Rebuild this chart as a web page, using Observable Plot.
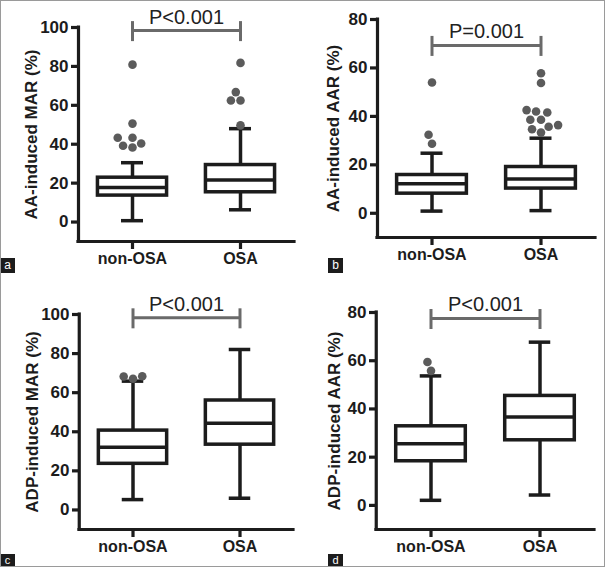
<!DOCTYPE html>
<html>
<head>
<meta charset="utf-8">
<script src="https://cdn.jsdelivr.net/npm/d3@7"></script>
<script src="https://cdn.jsdelivr.net/npm/@observablehq/plot@0.6"></script>
<style>
  html, body { margin: 0; padding: 0; background: #fff; }
  #fig { position: relative; width: 605px; height: 567px; overflow: hidden; background: #fff; }
  .panel { position: absolute; }
  .panel svg { display: block; }
  #border { position: absolute; left: 0; top: 0; width: 605px; height: 567px; box-sizing: border-box; border: 1px solid #9a9a9a; pointer-events: none; }
  .tag { position: absolute; width: 15px; height: 15px; background: #1c1c1c; color: #fff;
         font: 12px "Liberation Sans", Arial, sans-serif; line-height: 14px; text-align: center; }
</style>
</head>
<body>
<div id="fig">
  <div class="panel" id="pa" style="left:0;top:0"></div>
  <div class="panel" id="pb" style="left:302px;top:0"></div>
  <div class="panel" id="pc" style="left:0;top:283px"></div>
  <div class="panel" id="pd" style="left:302px;top:283px"></div>
  <div class="tag" style="left:0;top:258px">a</div>
  <div class="tag" style="left:328px;top:258px">b</div>
  <div class="tag" style="left:0;top:554px;height:12px;line-height:12px;font-size:11px">c</div>
  <div class="tag" style="left:328px;top:554px;height:12px;line-height:12px;font-size:11px">d</div>
  <div id="border"></div>
</div>
<script>
// Categories
const groups = ["non-OSA", "OSA"];

// Panel a: AA-induced MAR (%)
const aLabel = "AA-induced MAR (%)";
const aTicks = [0, 20, 40, 60, 80, 100];
const aDomain = [-10, 100];
const aMin = [0.7, 6.3];
const aQ1 = [13.6, 15.3];
const aMed = [17.7, 21.6];
const aQ3 = [22.8, 29.3];
const aMax = [30.5, 48.0];
const aOutNon = [80.9, 50.6, 38.3, 39.2, 40.4, 43.3, 43.3];
const aOutOSA = [81.8, 49.7, 62.5, 62.5, 66.8];
const aP = "P<0.001";
const aBracket = 98.4;

// Panel b: AA-induced AAR (%)
const bLabel = "AA-induced AAR (%)";
const bTicks = [0, 20, 40, 60, 80];
const bDomain = [-10, 80];
const bMin = [0.9, 1.1];
const bQ1 = [8.1, 10.2];
const bMed = [12.2, 14.2];
const bQ3 = [15.8, 19.1];
const bMax = [24.8, 31.0];
const bOutNon = [54.0, 28.7, 32.4];
const bOutOSA = [57.8, 53.8, 33.3, 34.7, 35.7, 36.4, 38.6, 38.6, 41.6, 42.0, 42.6];
const bP = "P=0.001";
const bBracket = 69.3;

// Panel c: ADP-induced MAR (%)
const cLabel = "ADP-induced MAR (%)";
const cTicks = [0, 20, 40, 60, 80, 100];
const cDomain = [-10, 100];
const cMin = [5.3, 6.0];
const cQ1 = [23.6, 33.4];
const cMed = [32.1, 44.4];
const cQ3 = [40.6, 56.0];
const cMax = [65.9, 82.1];
const cOutNon = [67.1, 68.3, 68.4];
const cOutOSA = [];
const cP = "P<0.001";
const cBracket = 98.3;

// Panel d: ADP-induced AAR (%)
const dLabel = "ADP-induced AAR (%)";
const dTicks = [0, 20, 40, 60, 80];
const dDomain = [-10, 80];
const dMin = [2.1, 4.3];
const dQ1 = [18.3, 27.0];
const dMed = [25.6, 36.7];
const dQ3 = [32.8, 45.4];
const dMax = [53.7, 67.7];
const dOutNon = [55.8, 59.5];
const dOutOSA = [];
const dP = "P<0.001";
const dBracket = 77.5;

const INK = "#1c1c1c";
const DOT = "#5b5b5b";
const BRK = "#6a6a6a";
const FONT = "'Liberation Sans', Arial, Helvetica, sans-serif";
const AXW = 3.2;

function panel(p, L) {
  const stats = groups.map((g, i) => ({group: g, min: p.min[i], q1: p.q1[i], med: p.med[i], q3: p.q3[i], max: p.max[i]}));
  const outliers = groups.flatMap((g, i) => p.out[i].map((v) => ({group: g, value: v})));
  const fw = (L.width - L.ml - L.mr) / 2;
  const boxInset = fw * 0.18;
  const capInset = (fw - 22) / 2;
  return Plot.plot({
    width: L.width, height: L.height,
    marginLeft: L.ml, marginRight: L.mr, marginTop: L.mt, marginBottom: L.mb,
    style: {fontFamily: FONT, fontWeight: "bold", fontSize: "16px", color: INK, background: "white", overflow: "visible"},
    fx: {domain: groups, padding: 0, axis: null},
    x: {domain: [0, 1], axis: null},
    y: {domain: p.domain, axis: null},
    marks: [
      // axis lines and ticks
      Plot.tickY(groups, {fx: (d) => d, y: () => p.domain[0], stroke: INK, strokeWidth: AXW, strokeLinecap: "square"}),
      Plot.ruleX([groups[0]], {fx: (d) => d, x: null, y1: () => p.domain[0], y2: () => p.domain[1], dx: -fw / 2,
                 stroke: INK, strokeWidth: AXW, strokeLinecap: "square"}),
      Plot.tickY(p.ticks, {fx: () => groups[0], y: (d) => d, insetLeft: -7, insetRight: fw, stroke: INK, strokeWidth: AXW}),
      Plot.ruleX(groups, {fx: (d) => d, x: null, y1: () => p.domain[0], y2: () => p.domain[0], insetTop: 0, insetBottom: -8,
                 stroke: INK, strokeWidth: AXW}),
      Plot.axisY({ticks: p.ticks, tickSize: 0, tickPadding: 10, fontSize: 17, fontWeight: "bold",
                  label: p.label, labelAnchor: "center", labelOffset: L.lo, labelArrow: "none"}),
      Plot.axisFx({anchor: "bottom", tickSize: 0, tickPadding: 11, fontSize: 16, fontWeight: "bold", label: null}),
      // whiskers
      Plot.ruleX(stats, {fx: "group", x: null, y1: "q3", y2: "max", stroke: INK, strokeWidth: 3.5}),
      Plot.ruleX(stats, {fx: "group", x: null, y1: "min", y2: "q1", stroke: INK, strokeWidth: 3.5}),
      // boxes, medians, caps
      Plot.rect(stats, {fx: "group", y1: "q1", y2: "q3", fill: "white", stroke: INK, strokeWidth: 3.5, insetLeft: boxInset, insetRight: boxInset}),
      Plot.tickY(stats, {fx: "group", y: "med", stroke: INK, strokeWidth: 3.5, insetLeft: boxInset, insetRight: boxInset}),
      Plot.tickY(stats, {fx: "group", y: "min", stroke: INK, strokeWidth: 3.5, insetLeft: capInset, insetRight: capInset}),
      Plot.tickY(stats, {fx: "group", y: "max", stroke: INK, strokeWidth: 3.5, insetLeft: capInset, insetRight: capInset}),
      // significance bracket
      Plot.tickY([groups[0]], {fx: (d) => d, y: () => p.bracket, stroke: BRK, strokeWidth: 3, insetLeft: fw / 2}),
      Plot.tickY([groups[1]], {fx: (d) => d, y: () => p.bracket, stroke: BRK, strokeWidth: 3, insetRight: fw / 2}),
      Plot.ruleX(groups, {fx: (d) => d, x: null, y1: () => p.bracket, y2: () => p.bracket, insetTop: -9, insetBottom: -11, stroke: BRK, strokeWidth: 3}),
      Plot.text([p.pText], {fx: () => groups[0], y: () => p.bracket, text: (d) => d, frameAnchor: "right", textAnchor: "middle",
                 dy: -13.5, fontSize: 20, fontWeight: "normal", fill: "#222"}),
      // outliers
      Plot.dot(outliers, Plot.dodgeX("middle", {fx: "group", y: "value", r: 4.3, padding: 3, fill: DOT, stroke: "none"}))
    ]
  });
}

const panels = [
  ["pa", {label: aLabel, ticks: aTicks, domain: aDomain, min: aMin, q1: aQ1, med: aMed, q3: aQ3, max: aMax, out: [aOutNon, aOutOSA], pText: aP, bracket: aBracket},
         {width: 302, height: 283, ml: 78, mr: 8, mt: 27, mb: 42, lo: 54}],
  ["pb", {label: bLabel, ticks: bTicks, domain: bDomain, min: bMin, q1: bQ1, med: bMed, q3: bQ3, max: bMax, out: [bOutNon, bOutOSA], pText: bP, bracket: bBracket},
         {width: 303, height: 283, ml: 75, mr: 10, mt: 19, mb: 46, lo: 51}],
  ["pc", {label: cLabel, ticks: cTicks, domain: cDomain, min: cMin, q1: cQ1, med: cMed, q3: cQ3, max: cMax, out: [cOutNon, cOutOSA], pText: cP, bracket: cBracket},
         {width: 302, height: 284, ml: 78, mr: 9, mt: 31, mb: 38, lo: 54}],
  ["pd", {label: dLabel, ticks: dTicks, domain: dDomain, min: dMin, q1: dQ1, med: dMed, q3: dQ3, max: dMax, out: [dOutNon, dOutOSA], pText: dP, bracket: dBracket},
         {width: 303, height: 284, ml: 73, mr: 11, mt: 29, mb: 38, lo: 49}]
];

for (const [id, p, L] of panels) {
  document.getElementById(id).appendChild(panel(p, L));
}
</script>
</body>
</html>
